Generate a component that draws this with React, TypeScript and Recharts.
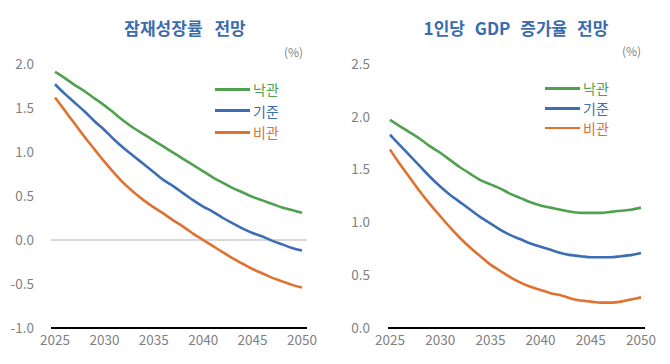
import React from 'react';
import { LineChart, Line, XAxis, YAxis, ReferenceLine } from 'recharts';

const years = [2025, 2026, 2027, 2028, 2029, 2030, 2031, 2032, 2033, 2034, 2035, 2036, 2037, 2038, 2039, 2040, 2041, 2042, 2043, 2044, 2045, 2046, 2047, 2048, 2049, 2050];

// 잠재성장률 전망
const potOptimistic = [1.91, 1.84, 1.76, 1.69, 1.61, 1.53, 1.44, 1.35, 1.27, 1.20, 1.13, 1.06, 0.99, 0.92, 0.85, 0.78, 0.71, 0.65, 0.59, 0.54, 0.49, 0.45, 0.41, 0.37, 0.34, 0.31];
const potBase = [1.77, 1.66, 1.56, 1.46, 1.35, 1.25, 1.14, 1.04, 0.95, 0.86, 0.77, 0.68, 0.61, 0.53, 0.45, 0.38, 0.32, 0.25, 0.19, 0.13, 0.08, 0.04, -0.01, -0.05, -0.09, -0.12];
const potPessimistic = [1.62, 1.47, 1.32, 1.17, 1.03, 0.89, 0.76, 0.64, 0.54, 0.45, 0.37, 0.30, 0.22, 0.15, 0.07, 0.00, -0.07, -0.14, -0.21, -0.27, -0.33, -0.38, -0.43, -0.47, -0.51, -0.54];

// 1인당 GDP 증가율 전망
const gdpOptimistic = [1.97, 1.91, 1.85, 1.79, 1.72, 1.66, 1.59, 1.52, 1.46, 1.40, 1.36, 1.32, 1.27, 1.23, 1.19, 1.16, 1.14, 1.12, 1.10, 1.09, 1.09, 1.09, 1.10, 1.11, 1.12, 1.14];
const gdpBase = [1.83, 1.73, 1.63, 1.53, 1.43, 1.34, 1.26, 1.19, 1.12, 1.05, 0.99, 0.93, 0.88, 0.84, 0.80, 0.77, 0.74, 0.71, 0.69, 0.68, 0.67, 0.67, 0.67, 0.68, 0.69, 0.71];
const gdpPessimistic = [1.69, 1.55, 1.42, 1.29, 1.17, 1.06, 0.95, 0.85, 0.76, 0.68, 0.60, 0.54, 0.48, 0.43, 0.39, 0.36, 0.33, 0.31, 0.28, 0.26, 0.25, 0.24, 0.24, 0.25, 0.27, 0.29];

const xTicks = [2025, 2030, 2035, 2040, 2045, 2050];
const potTicks = [-1.0, -0.5, 0.0, 0.5, 1.0, 1.5, 2.0];
const gdpTicks = [0.0, 0.5, 1.0, 1.5, 2.0, 2.5];

const seriesNames = ['낙관', '기준', '비관'];
const titles = ['잠재성장률 전망', '1인당 GDP 증가율 전망'];
const unitLabel = '(%)';

const GREEN = '#4fa14f';
const BLUE = '#3d6db2';
const ORANGE = '#e0712f';
const TITLE = '#3b6cae';
const GRAY = '#7f7f7f';
const FONT = '"Noto Sans CJK KR", "Noto Sans", sans-serif';

const potData = years.map((y, i) => ({ year: y, a: potOptimistic[i], b: potBase[i], c: potPessimistic[i] }));
const gdpData = years.map((y, i) => ({ year: y, a: gdpOptimistic[i], b: gdpBase[i], c: gdpPessimistic[i] }));

const fmt = (v: number) => v.toFixed(1);

function LegendBox({ left, top, gap, widths }: { left: number; top: number; gap: number; widths: number[] }) {
  const colors = [GREEN, BLUE, ORANGE];
  return (
    <div style={{ position: 'absolute', left, top, fontFamily: FONT }}>
      {seriesNames.map((n, i) => (
        <div key={n} style={{ position: 'absolute', left: 0, top: i * gap, display: 'flex', alignItems: 'center', height: 20, whiteSpace: 'nowrap' }}>
          <div style={{ width: 35, height: widths[i], background: colors[i] }} />
          <span style={{ marginLeft: 3, fontSize: 14, color: colors[i], lineHeight: '20px' }}>{n}</span>
        </div>
      ))}
    </div>
  );
}

export default function App() {
  const tickStyle = { fill: GRAY, fontSize: 13.5, fontFamily: FONT };
  return (
    <div style={{ position: 'absolute', left: 0, top: 0, width: 670, height: 364, background: '#fff', fontFamily: FONT }}>
      <div style={{ position: 'absolute', left: 0, top: 0 }}>
        <LineChart width={335} height={364} data={potData} margin={{ top: 64, right: 28, bottom: 6, left: 11 }}>
          <XAxis dataKey="year" type="number" domain={[2025, 2050]} ticks={xTicks} padding={{ left: 4, right: 5 }}
            axisLine={{ stroke: '#000', strokeWidth: 2 }} tickLine={false} tickSize={0} tickMargin={7} height={30}
            tick={tickStyle} interval={0} />
          <YAxis type="number" domain={[-1, 2]} ticks={potTicks} width={40} axisLine={false} tickLine={false}
            tickSize={0} tickMargin={17} tick={tickStyle} tickFormatter={fmt} interval={0} />
          <ReferenceLine y={0} stroke="#b0b0b0" strokeWidth={1} />
          <Line type="monotone" dataKey="a" stroke={GREEN} strokeWidth={2.6} dot={false} isAnimationActive={false} />
          <Line type="monotone" dataKey="b" stroke={BLUE} strokeWidth={2.6} dot={false} isAnimationActive={false} />
          <Line type="monotone" dataKey="c" stroke={ORANGE} strokeWidth={2.6} dot={false} isAnimationActive={false} />
        </LineChart>
      </div>
      <div style={{ position: 'absolute', left: 335, top: 0 }}>
        <LineChart width={335} height={364} data={gdpData} margin={{ top: 64, right: 25, bottom: 6, left: 13 }}>
          <XAxis dataKey="year" type="number" domain={[2025, 2050]} ticks={xTicks} padding={{ left: 2, right: 4 }}
            axisLine={{ stroke: '#000', strokeWidth: 2 }} tickLine={false} tickSize={0} tickMargin={7} height={30}
            tick={tickStyle} interval={0} />
          <YAxis type="number" domain={[0, 2.5]} ticks={gdpTicks} width={40} axisLine={false} tickLine={false}
            tickSize={0} tickMargin={18} tick={tickStyle} tickFormatter={fmt} interval={0} />
          <Line type="monotone" dataKey="a" stroke={GREEN} strokeWidth={2.6} dot={false} isAnimationActive={false} />
          <Line type="monotone" dataKey="b" stroke={BLUE} strokeWidth={2.6} dot={false} isAnimationActive={false} />
          <Line type="monotone" dataKey="c" stroke={ORANGE} strokeWidth={2.6} dot={false} isAnimationActive={false} />
        </LineChart>
      </div>
      <div style={{ position: 'absolute', left: 0, width: 370, top: 16, textAlign: 'center', fontSize: 17, fontWeight: 700, color: TITLE, lineHeight: '24px', wordSpacing: 8 }}>{titles[0]}</div>
      <div style={{ position: 'absolute', left: 335, width: 362, top: 16, textAlign: 'center', fontSize: 17, fontWeight: 700, color: TITLE, lineHeight: '24px', wordSpacing: 6 }}>{titles[1]}</div>
      <div style={{ position: 'absolute', left: 284, top: 44, fontSize: 12, color: GRAY, lineHeight: '16px' }}>{unitLabel}</div>
      <div style={{ position: 'absolute', left: 622, top: 43, fontSize: 12, color: GRAY, lineHeight: '16px' }}>{unitLabel}</div>
      <LegendBox left={215} top={79} gap={21.5} widths={[3, 3, 3]} />
      <LegendBox left={545} top={78} gap={20} widths={[3, 3, 2]} />
    </div>
  );
}
